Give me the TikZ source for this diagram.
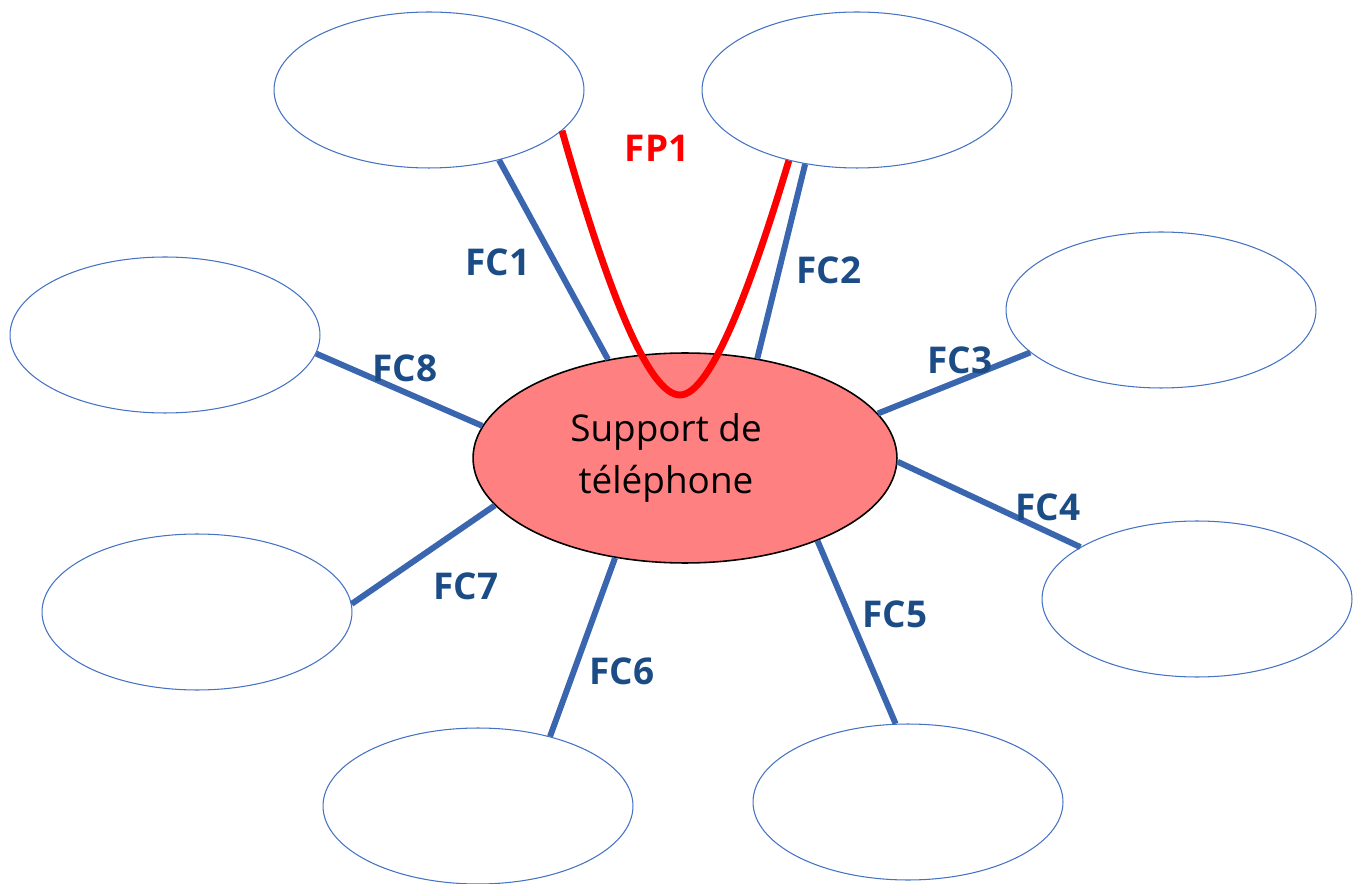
\documentclass[tikz,border=0pt]{standalone}
\usepackage{fontspec}
\setmainfont{Open Sans}
\definecolor{BULcol}{HTML}{4472C4}
\definecolor{FCcol}{HTML}{3A66B0}
\definecolor{LABcol}{HTML}{1C4C86}
\definecolor{CENcol}{HTML}{FF8080}
\usetikzlibrary{shapes.geometric}

\begin{document}
\begin{tikzpicture}[x=0.02cm, y=-0.02cm,
            bulle/.style={ellipse, draw=BULcol, line width=0.6pt, inner sep=0pt,
                          minimum width=6.2cm, minimum height=3.12cm},
            centre/.style={ellipse, draw=black, fill=CENcol, line width=0.9pt,
                           inner sep=0pt, minimum width=8.48cm, minimum height=4.2cm},
            ctext/.style={align=center, font=\fontsize{21}{30}\selectfont},
            fc/.style={draw=FCcol, line width=3.4pt},
            fp/.style={draw=red, line width=3.9pt},
            lab/.style={text=LABcol, font=\fontsize{21}{25}\selectfont\bfseries}]
        \useasboundingbox (0,0) rectangle (1358,884);
        \node[bulle] (b1) at (429,90)  {};
        \node[bulle] (b2) at (857,90)  {};
        \node[bulle] (b3) at (1161,310) {};
        \node[bulle] (b4) at (1197,599) {};
        \node[bulle] (b5) at (908,802) {};
        \node[bulle] (b6) at (478,806) {};
        \node[bulle] (b7) at (197,612) {};
        \node[bulle] (b8) at (165,335) {};
        \node[centre] (c) at (685,458) {};
        \node[ctext] (ct) at (666,458) {Support de\\téléphone};
        \draw[fc] (b1.-45.4) -- (c.128.7);
        \draw[fc] (b2.-125.8) -- (c.54.1);
        \draw[fc] (b3.-162.2) -- (c.13.2);
        \draw[fc] (b4.156.8) -- (c.-1.9);
        \draw[fc] (b5.99.6) -- (c.-32.7);
        \draw[fc] (b6.44.2) -- (c.-125.5);
        \draw[fc] (b7.3.4) -- (c.-166.3);
        \draw[fc] (b8.-7.7) -- (c.171.7);
        \coordinate (fpbas) at (680,395);
        \draw[fp] (b1.-17.4) .. controls (610,300) and (650,395) .. (fpbas)
                  .. controls (710,395) and (750,290) .. (b2.-134.2);
        \node[text=red, font=\fontsize{21}{25}\selectfont\bfseries] (fp1) at (657,148) {FP1};
        \node[lab] (fc1) at (498,262)  {FC1};
        \node[lab] (fc2) at (829,270)  {FC2};
        \node[lab] (fc3) at (960,360)  {FC3};
        \node[lab] (fc4) at (1048,507) {FC4};
        \node[lab] (fc5) at (895,614)  {FC5};
        \node[lab] (fc6) at (622,671)  {FC6};
        \node[lab] (fc7) at (466,586)  {FC7};
        \node[lab] (fc8) at (405,368)  {FC8};
      \end{tikzpicture}
\end{document}
